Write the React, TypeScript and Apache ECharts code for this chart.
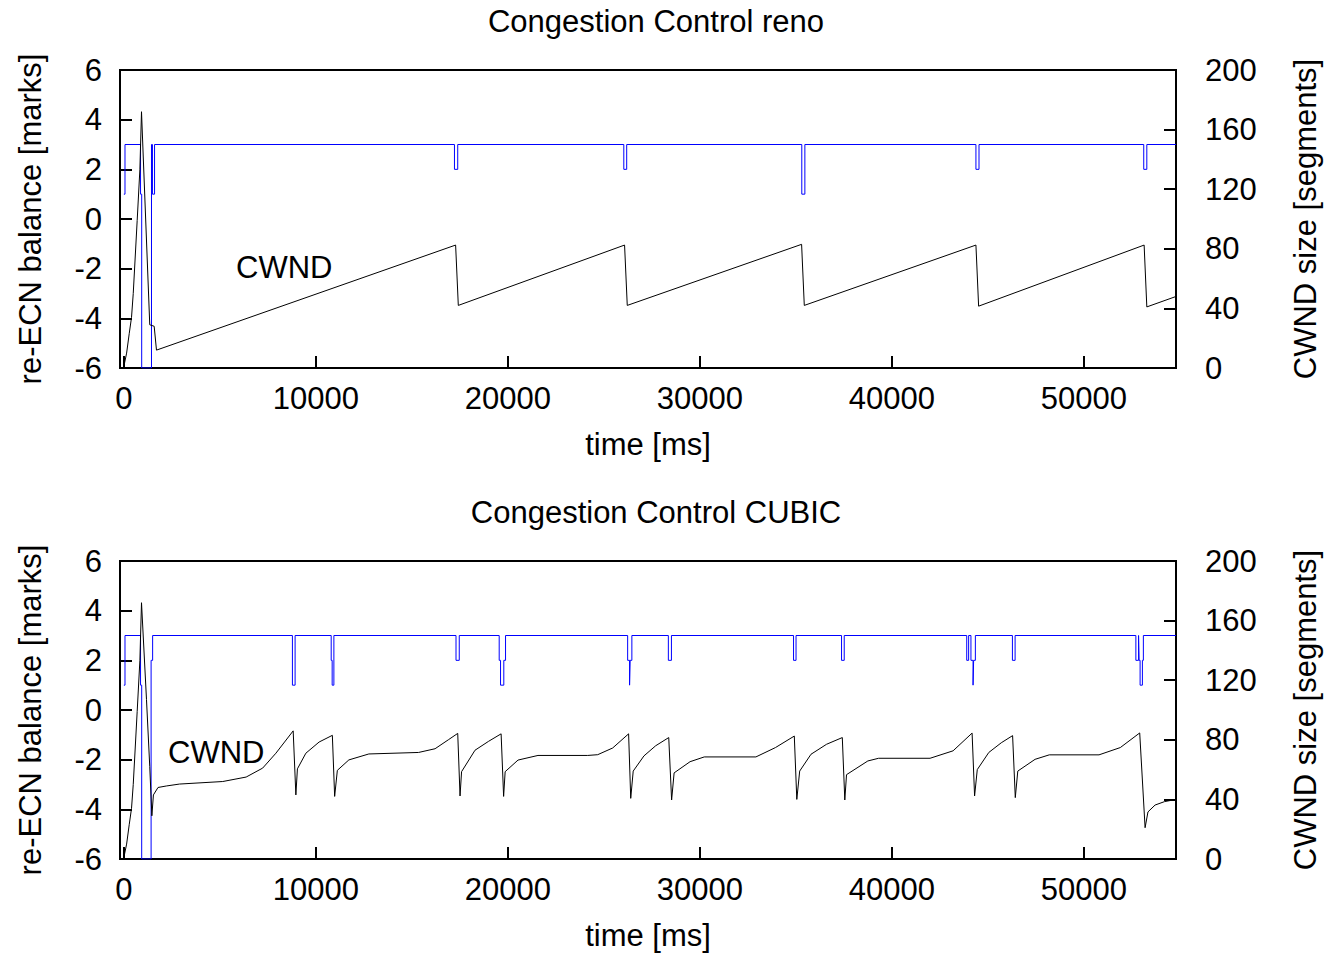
import React, { useEffect, useRef } from 'react';
import * as echarts from 'echarts';

const titles = ['Congestion Control reno', 'Congestion Control CUBIC'];
const xTickValues = [0, 10000, 20000, 30000, 40000, 50000];
const xName = 'time [ms]';
const leftName = 're-ECN balance [marks]';
const rightName = 'CWND size [segments]';
const cwndLabel = 'CWND';

// re-ECN balance (change points, value holds until next point)
const renoBalance: [number, number][] = [
  [0, 1], [60, 3], [870, 1], [930, -6], [1440, 3], [1490, 1], [1600, 3],
  [17220, 2], [17390, 3], [26040, 2], [26190, 3], [35310, 1], [35470, 3],
  [44380, 2], [44540, 3], [53120, 2], [53280, 3], [54800, 3],
];

const renoCwnd: [number, number][] = [
  [0, 1], [145, 10], [280, 23], [400, 34], [490, 50], [695, 99], [835, 133], [920, 172],
  [1350, 29], [1580, 28], [1700, 12], [17280, 82.5], [17420, 42], [26080, 82.5],
  [26220, 42], [35300, 83], [35440, 42], [44380, 82.5], [44520, 41.5], [53140, 82.5],
  [53280, 41], [54800, 48],
];

const cubicBalance: [number, number][] = [
  [0, 1], [60, 3], [870, 1], [930, -6], [1420, 2], [1500, 3],
  [8780, 1], [8920, 3],
  [10800, 2], [10850, 1], [10940, 3],
  [17300, 2], [17470, 3],
  [19550, 2], [19620, 1], [19790, 2], [19880, 3],
  [26240, 2], [26340, 1], [26370, 2], [26460, 3],
  [28360, 2], [28520, 3],
  [34880, 2], [35010, 3],
  [37380, 2], [37520, 3],
  [43900, 2], [44000, 3], [44120, 2], [44230, 1], [44260, 2], [44350, 3],
  [46280, 2], [46420, 3],
  [52710, 2], [52850, 3], [52880, 2], [52930, 1], [53050, 2], [53100, 3],
  [54800, 3],
];

const cubicCwnd: [number, number][] = [
  [0, 1], [145, 10], [280, 23], [400, 34], [490, 50], [695, 99], [835, 133], [920, 172],
  [1180, 107], [1350, 62], [1460, 29], [1540, 43], [1780, 48], [2210, 49], [2900, 50.3],
  [5150, 52], [6370, 55], [7230, 61], [7920, 71], [8820, 86],
  [8960, 43], [9040, 60.5], [9480, 71], [10170, 78.5], [10860, 83],
  [10980, 42], [11120, 59.5], [11720, 66.5], [12760, 70.5], [15350, 71.5], [16210, 74], [16900, 80], [17390, 84.3],
  [17510, 42.3], [17590, 58.6], [18290, 73], [19000, 79], [19650, 84],
  [19780, 42], [19860, 58.6], [20530, 66.4], [21570, 69.5], [24160, 69.5], [24680, 70], [25460, 74.5], [26290, 84],
  [26400, 40.7], [26530, 59], [27090, 69.2], [27700, 76], [28380, 81.5],
  [28530, 39.6], [28660, 57.8], [29490, 65.3], [30230, 68.5], [32920, 68.5], [33940, 74.8], [34920, 82.5],
  [35050, 40], [35200, 59], [35790, 70.3], [36600, 77], [37420, 81.5],
  [37550, 39.6], [37640, 56.6], [38750, 65.8], [39310, 67.6], [41990, 67.6], [43190, 72.6], [44180, 84.5],
  [44310, 42.3], [44450, 60], [45050, 71.5], [45700, 78], [46290, 82.8],
  [46430, 41.2], [46560, 59], [47460, 66.9], [48200, 69.9], [50790, 69.9], [51900, 74.8], [52910, 84.6],
  [53190, 21], [53340, 31.6], [53710, 36.2], [54200, 38.5], [54800, 40],
];

const FONT = '"Liberation Sans", Arial, Helvetica, sans-serif';

export default function App() {
  const ref = useRef<HTMLDivElement>(null);
  useEffect(() => {
    document.body.style.margin = '0';
    const chart = echarts.init(ref.current!, null, { renderer: 'svg' });
    const gridTops = [70, 561];
    const textBase = { color: '#000', fontFamily: FONT, fontSize: 31 };
    const tick = { show: true, inside: true, length: 12, lineStyle: { color: '#000', width: 2 } };

    const option: any = {
      animation: false,
      backgroundColor: '#fff',
      title: titles.map((t, i) => ({
        text: t,
        left: 651,
        textAlign: 'center',
        top: gridTops[i] - 69,
        textStyle: { ...textBase, fontWeight: 'normal' },
      })),
      grid: gridTops.map((top) => ({
        left: 120, width: 1061, top, height: 298,
        show: true, borderColor: '#000', borderWidth: 2, backgroundColor: 'transparent',
      })),
      xAxis: gridTops.map((_, i) => ({
        type: 'value', gridIndex: i, min: -200, max: 54800,
        minInterval: 10000, maxInterval: 10000,
        axisLine: { show: false, onZero: false },
        axisTick: tick,
        splitLine: { show: false },
        axisLabel: {
          ...textBase, margin: 15,
          formatter: (v: number) => (xTickValues.includes(v) ? String(v) : ''),
        },
        name: xName, nameLocation: 'middle', nameGap: 61,
        nameTextStyle: textBase,
      })),
      yAxis: [
        ...gridTops.map((_, i) => ({
          type: 'value', gridIndex: i, position: 'left', min: -6, max: 6, interval: 2,
          axisLine: { show: false, onZero: false }, axisTick: tick, splitLine: { show: false },
          axisLabel: { ...textBase, margin: 18 },
          name: leftName, nameLocation: 'middle', nameRotate: 90, nameGap: 74,
          nameTextStyle: textBase,
        })),
        ...gridTops.map((_, i) => ({
          type: 'value', gridIndex: i, position: 'right', min: 0, max: 200, interval: 40,
          axisLine: { show: false, onZero: false }, axisTick: tick, splitLine: { show: false },
          axisLabel: { ...textBase, margin: 29 },
          name: rightName, nameLocation: 'middle', nameRotate: 90, nameGap: 114,
          nameTextStyle: textBase,
        })),
      ],
      series: [
        { name: 'reno balance', type: 'line', xAxisIndex: 0, yAxisIndex: 0, data: renoBalance, step: 'end', showSymbol: false, lineStyle: { color: '#0000ff', width: 1 }, itemStyle: { color: '#0000ff' } },
        { name: 'reno cwnd', type: 'line', xAxisIndex: 0, yAxisIndex: 2, data: renoCwnd, showSymbol: false, lineStyle: { color: '#000', width: 1 }, itemStyle: { color: '#000' } },
        { name: 'cubic balance', type: 'line', xAxisIndex: 1, yAxisIndex: 1, data: cubicBalance, step: 'end', showSymbol: false, lineStyle: { color: '#0000ff', width: 1 }, itemStyle: { color: '#0000ff' } },
        { name: 'cubic cwnd', type: 'line', xAxisIndex: 1, yAxisIndex: 3, data: cubicCwnd, showSymbol: false, lineStyle: { color: '#000', width: 1 }, itemStyle: { color: '#000' } },
      ],
      graphic: [
        { type: 'text', x: 236, y: 267, style: { text: cwndLabel, font: `31px ${FONT}`, fill: '#000', textAlign: 'left', textVerticalAlign: 'middle', align: 'left', verticalAlign: 'middle' } },
        { type: 'text', x: 168, y: 752, style: { text: cwndLabel, font: `31px ${FONT}`, fill: '#000', textAlign: 'left', textVerticalAlign: 'middle', align: 'left', verticalAlign: 'middle' } },
      ],
    };
    chart.setOption(option);
    return () => chart.dispose();
  }, []);
  return <div ref={ref} style={{ width: 1329, height: 954 }} />;
}
